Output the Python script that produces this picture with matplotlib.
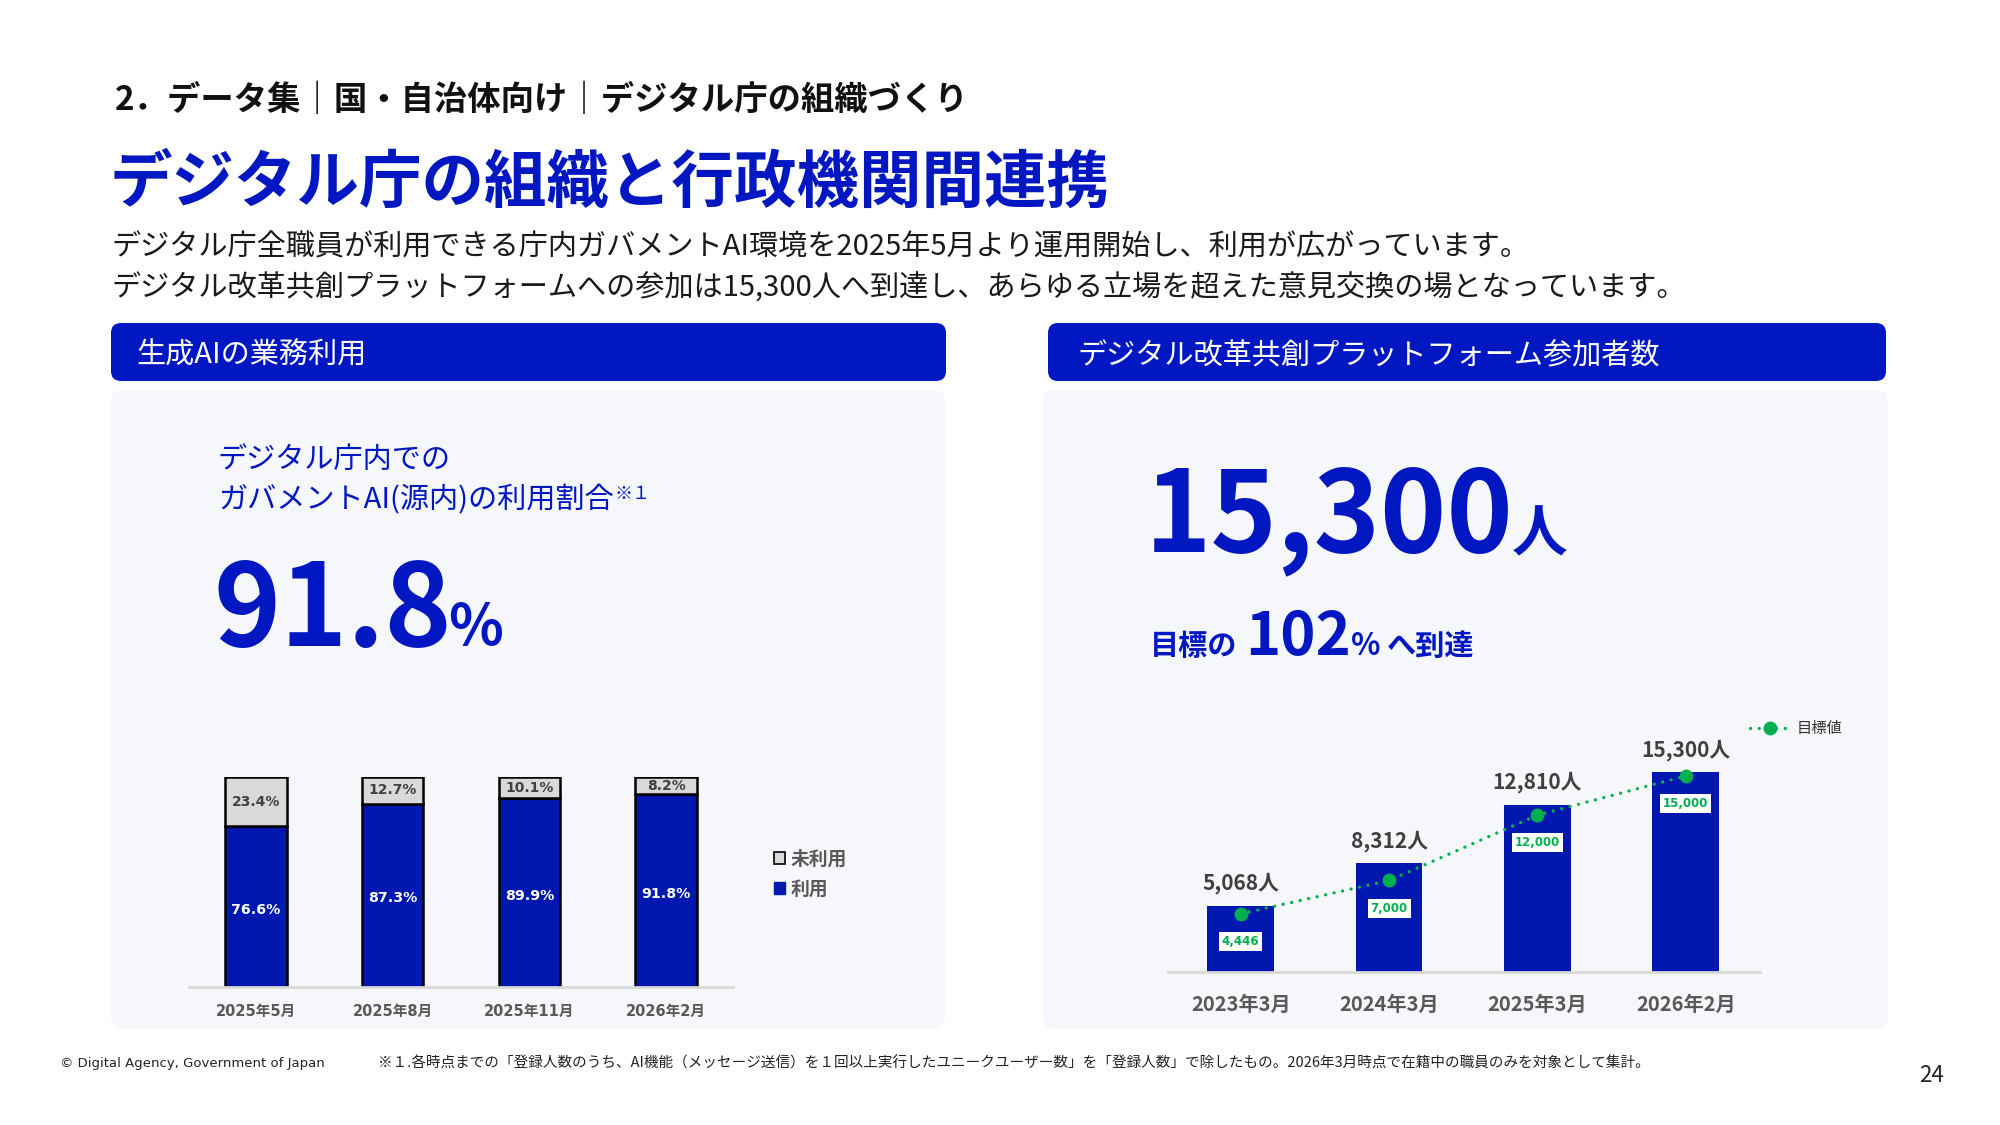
import matplotlib
matplotlib.use("Agg")
import matplotlib.pyplot as plt
from matplotlib.patches import FancyBboxPatch, Patch
import numpy as np

plt.rcParams["font.family"] = ["Noto Sans CJK JP", "DejaVu Sans"]

# ---- data -------------------------------------------------------------
usage_months = ["2025年5月", "2025年8月", "2025年11月", "2026年2月"]
usage_used = [76.6, 87.3, 89.9, 91.8]
usage_unused = [23.4, 12.7, 10.1, 8.2]

member_months = ["2023年3月", "2024年3月", "2025年3月", "2026年2月"]
member_counts = [5068, 8312, 12810, 15300]
member_targets = [4446, 7000, 12000, 15000]

BLUE = "#0017C1"
BAR_BLUE = "#0017B0"
GREEN = "#00B050"
PANEL_BG = "#F6F7FA"
GRAY_TXT = "#595959"
DARK_TXT = "#404040"
W, H = 2000, 1125

fig = plt.figure(figsize=(20, 11.25), dpi=100)
fig.patch.set_facecolor("white")
renderer = fig.canvas.get_renderer()

# background axes in pixel coordinates
bg = fig.add_axes([0, 0, 1, 1])
bg.set_xlim(0, W)
bg.set_ylim(H, 0)
bg.axis("off")


def rbox(x, y, w, h, color, r):
    bg.add_patch(FancyBboxPatch((x, y), w, h, boxstyle=f"round,pad=0,rounding_size={r}",
                                facecolor=color, edgecolor="none", zorder=0))


def text_run(x, y, parts, color):
    # parts: list of (string, fontsize, gap after); drawn on a common baseline
    for s, size, gap in parts:
        t = bg.text(x, y, s, fontsize=size, color=color, fontweight="bold",
                    va="baseline", ha="left")
        bb = t.get_window_extent(renderer)
        x += bb.width + gap


# ---- header texts -------------------------------------------------------
bg.text(115, 100, "2．データ集｜国・自治体向け｜デジタル庁の組織づくり", fontsize=24,
        fontweight="bold", color="#111111", va="center")
bg.text(110, 183, "デジタル庁の組織と行政機関間連携", fontsize=45, fontweight="bold",
        color=BLUE, va="center")
bg.text(112, 247, "デジタル庁全職員が利用できる庁内ガバメントAI環境を2025年5月より運用開始し、利用が広がっています。",
        fontsize=21, color="#1A1A1A", va="center")
bg.text(112, 288, "デジタル改革共創プラットフォームへの参加は15,300人へ到達し、あらゆる立場を超えた意見交換の場となっています。",
        fontsize=21, color="#1A1A1A", va="center")

# ---- panels ---------------------------------------------------------------
rbox(111, 323, 835, 58, BLUE, 10)
rbox(1048, 323, 838, 58, BLUE, 10)
rbox(111, 390, 834, 639, PANEL_BG, 12)
rbox(1043, 390, 845, 639, PANEL_BG, 12)

bg.text(136, 356, "生成AIの業務利用", fontsize=21, color="white", va="center")
bg.text(1078, 356, "デジタル改革共創プラットフォーム参加者数", fontsize=21, color="white", va="center")

# left headline
bg.text(218, 460, "デジタル庁内での", fontsize=21, color=BLUE, va="center")
t = bg.text(218, 500, "ガバメントAI(源内)の利用割合", fontsize=21, color=BLUE, va="center")
bb = t.get_window_extent(renderer)
bg.text(218 + bb.width + 1, 494, "※１", fontsize=13, color=BLUE, va="center")
text_run(214, 646, [("91.8", 82, -4), ("%", 41, 0)], BLUE)

# right headline
text_run(1145, 551, [("15,300", 81, -2), ("人", 40, 0)], BLUE)
text_run(1150, 655, [("目標の", 21, 8), ("102", 43, 0), ("%", 22, 6), ("へ到達", 21, 0)], BLUE)

# ---- left chart: stacked usage bars -----------------------------------------
ax = fig.add_axes([189 / W, (H - 987) / H, 544 / W, 210 / H])
ax.patch.set_alpha(0)
x = np.arange(len(usage_months))
ax.bar(x, usage_used, width=0.45, color=BAR_BLUE, edgecolor="black", linewidth=1.8, zorder=2)
ax.bar(x, usage_unused, bottom=usage_used, width=0.45, color="#D9D9D9", edgecolor="black",
       linewidth=1.8, zorder=2)
for i, (u, n) in enumerate(zip(usage_used, usage_unused)):
    ax.text(i, u / 2 - 1.5, f"{u}%", ha="center", va="center", color="white", fontsize=10.2,
            fontweight="bold", family="DejaVu Sans")
    ax.text(i, u + n / 2, f"{n}%", ha="center", va="center", color=DARK_TXT, fontsize=10,
            fontweight="bold", family="DejaVu Sans")
ax.set_xlim(-0.49, 3.49)
ax.set_ylim(0, 100)
for s in ["top", "left", "right"]:
    ax.spines[s].set_visible(False)
ax.spines["bottom"].set_color("#D9D9D9")
ax.spines["bottom"].set_linewidth(2)
ax.set_yticks([])
ax.set_xticks(x)
ax.set_xticklabels(usage_months, fontsize=10.5, fontweight="bold", color=GRAY_TXT,
                   family=["DejaVu Sans", "Noto Sans CJK JP"])
ax.tick_params(axis="x", length=0, pad=12)
handles = [Patch(facecolor="#D9D9D9", edgecolor="black", linewidth=1.2),
           Patch(facecolor=BAR_BLUE, edgecolor=BAR_BLUE)]
ax.legend(handles, ["未利用", "利用"], loc="center left", bbox_to_anchor=(757 / W, 1 - 874 / H),
          bbox_transform=fig.transFigure, frameon=False, handlelength=0.6, handleheight=0.6,
          handletextpad=0.3, labelspacing=0.6, labelcolor=GRAY_TXT,
          prop={"size": 13.5, "weight": "bold"})

# ---- right chart: participants vs target ----------------------------------
ax2 = fig.add_axes([1168 / W, (H - 972) / H, 592 / W, 250 / H])
ax2.patch.set_alpha(0)
x2 = np.arange(len(member_months))
ax2.bar(x2, member_counts, width=0.45, color=BAR_BLUE, zorder=2)
ax2.plot(x2, member_targets, color=GREEN, linestyle=(0, (0.01, 2.6)), linewidth=2.4,
         dash_capstyle="round", marker="o", markersize=9, zorder=3, label="目標値")
for i, (c, tg) in enumerate(zip(member_counts, member_targets)):
    ax2.annotate(f"{c:,}人", (i, c), xytext=(0, 16), textcoords="offset points",
                 ha="center", va="center", fontsize=15, fontweight="bold", color=DARK_TXT)
    ax2.annotate(f"{tg:,}", (i, tg), xytext=(0, -20), textcoords="offset points",
                 ha="center", va="center", fontsize=8.5, fontweight="bold", color=GREEN,
                 family="DejaVu Sans", zorder=4,
                 bbox=dict(boxstyle="square,pad=0.25", facecolor="white", edgecolor="none"))
ax2.set_xlim(-0.49, 3.5)
ax2.set_ylim(0, 15300 * 250 / 200)
for s in ["top", "left", "right"]:
    ax2.spines[s].set_visible(False)
ax2.spines["bottom"].set_color("#D9D9D9")
ax2.spines["bottom"].set_linewidth(2)
ax2.set_yticks([])
ax2.set_xticks(x2)
ax2.set_xticklabels(member_months, fontsize=14.5, fontweight="bold", color=GRAY_TXT)
ax2.tick_params(axis="x", length=0, pad=16)
ax2.legend(loc="center left", bbox_to_anchor=(1736 / W, 1 - 729 / H), bbox_transform=fig.transFigure,
           frameon=False, handlelength=2.6, handletextpad=0.5, fontsize=11, labelcolor="#333333")

# ---- footer -----------------------------------------------------------------
bg.text(60, 1063, "© Digital Agency, Government of Japan", fontsize=9.5, color="#222222",
        va="center", family=["DejaVu Sans", "Noto Sans CJK JP"])
bg.text(378, 1063, "※１.各時点までの「登録人数のうち、AI機能（メッセージ送信）を１回以上実行したユニークユーザー数」を「登録人数」で除したもの。2026年3月時点で在籍中の職員のみを対象として集計。",
        fontsize=10.5, color="#222222", va="center")
bg.text(1932, 1076, "24", fontsize=16, color="#222222", va="center", ha="center")

fig.savefig("out.png", dpi=100, facecolor="white")
